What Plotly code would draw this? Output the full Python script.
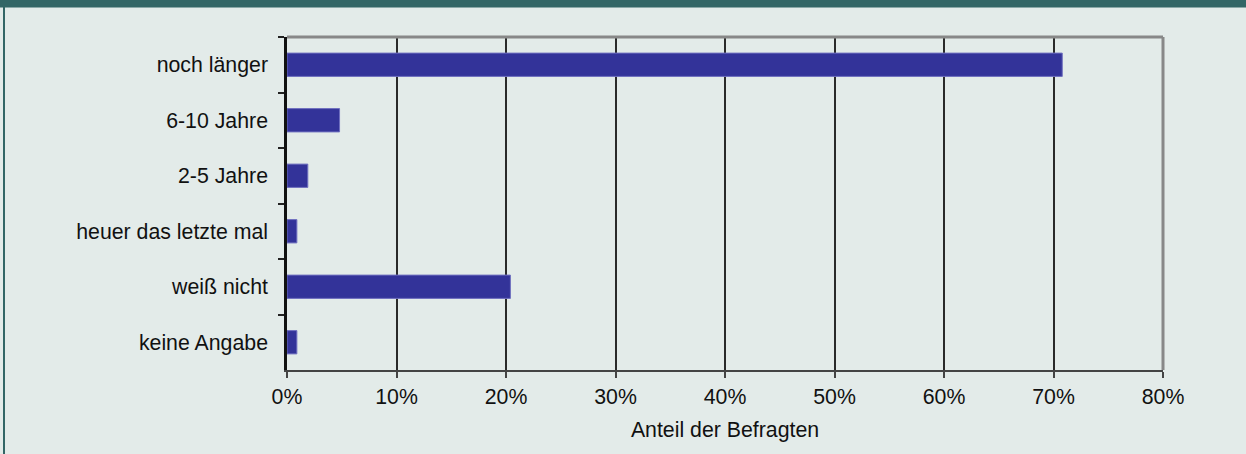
import plotly.graph_objects as go

categories = ["noch länger", "6-10 Jahre", "2-5 Jahre", "heuer das letzte mal", "weiß nicht", "keine Angabe"]
values = [70.8, 4.8, 1.9, 0.9, 20.4, 0.9]
x_tick_values = [0, 10, 20, 30, 40, 50, 60, 70, 80]
x_tick_labels = ["0%", "10%", "20%", "30%", "40%", "50%", "60%", "70%", "80%"]
x_title = "Anteil der Befragten"

W, H = 1246, 454
L, R, T, B = 287, 83, 37, 84
pw, ph = W - L - R, H - T - B

fig = go.Figure(go.Bar(
    y=categories, x=values, orientation="h",
    marker=dict(color="#333399", line=dict(color="#6f6fbf", width=1)),
    width=0.42,
))

font = dict(family="Liberation Sans, Arial, sans-serif", size=21.3, color="#111111")

fig.update_layout(
    width=W, height=H,
    margin=dict(l=L, r=R, t=T, b=B),
    paper_bgcolor="#e3ebe9", plot_bgcolor="#e3ebe9",
    font=font, showlegend=False,
    xaxis=dict(
        range=[0, 80], tickvals=x_tick_values, ticktext=x_tick_labels,
        showgrid=True, gridcolor="#2a2a2a", gridwidth=1.5,
        showline=True, linecolor="#444444", linewidth=2,
        ticks="outside", ticklen=6, tickcolor="#444444", tickwidth=1.5,
        zeroline=False,
        title=dict(text=x_title, standoff=15, font=font),
    ),
    yaxis=dict(
        autorange="reversed", type="category",
        showgrid=False, showline=True, linecolor="#111111", linewidth=2.5,
        ticks="outside", tickson="boundaries", ticklen=6, tickcolor="#222222", tickwidth=1.5,
        zeroline=False, ticklabelstandoff=12,
    ),
    shapes=[
        dict(type="line", xref="paper", yref="paper", x0=0, x1=1, y0=1, y1=1,
             line=dict(color="#888888", width=3)),
        dict(type="line", xref="paper", yref="paper", x0=1, x1=1, y0=0, y1=1,
             line=dict(color="#888888", width=3)),
        dict(type="rect", xref="paper", yref="paper",
             x0=-L / pw, x1=(W - L) / pw, y0=1 + (T - 7.5) / ph, y1=1 + (T + 1) / ph,
             line=dict(width=0), fillcolor="#336666"),
        dict(type="rect", xref="paper", yref="paper",
             x0=(3 - L) / pw, x1=(5 - L) / pw, y0=-B / ph, y1=1 + T / ph,
             line=dict(width=0), fillcolor="#336666"),
    ],
)

fig.write_html(
    "out.html",
    config={"displayModeBar": False},
    post_script="document.body.style.margin='0';document.body.style.overflow='hidden';",
)
